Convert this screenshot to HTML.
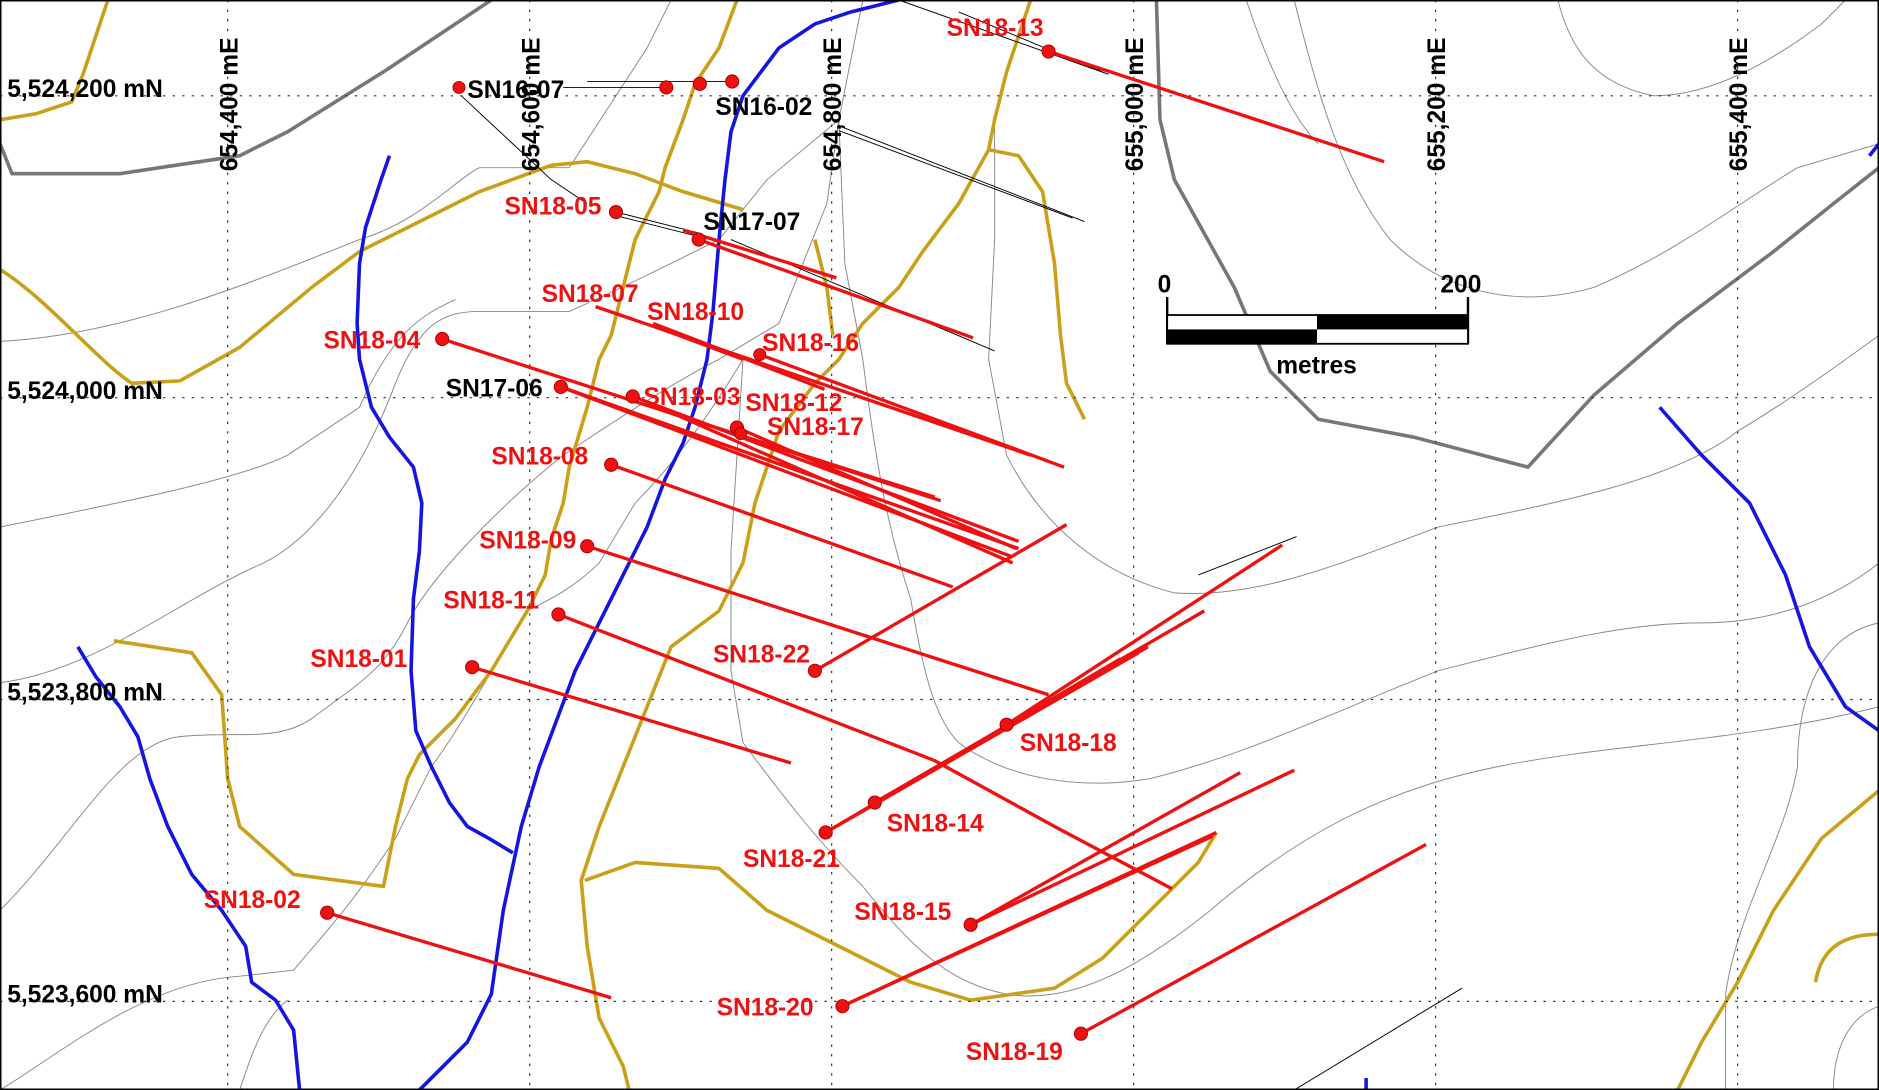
<!DOCTYPE html>
<html><head><meta charset="utf-8"><style>
html,body{margin:0;padding:0;background:#fff;}
svg{display:block;}
text{font-family:"Liberation Sans",Arial,sans-serif;font-weight:bold;}
.r{fill:#ee1111;font-size:20.5px;}
.k{fill:#000;font-size:20.5px;}
</style></head><body>
<svg width="1879" height="1090" viewBox="0 0 1568 910" preserveAspectRatio="none" xmlns="http://www.w3.org/2000/svg">
<rect x="0" y="0" width="1568" height="910" fill="#fff"/>
<g fill="none" stroke="#888" stroke-width="0.8">
<path d="M0,285 C100,280 200,240 300,200 C350,185 380,150 400,140 L475,140 L540,40 L560,0"/>
<path d="M0,570 C80,560 150,500 220,470 C260,450 300,400 330,320 C350,270 370,260 400,260 L475,260 C520,240 560,220 600,200 L640,150 L700,100"/>
<path d="M0,440 C100,420 200,400 240,380 L300,340 C330,270 360,260 380,250"/>
<path d="M0,760 C60,700 100,620 150,615 C200,610 230,620 260,600 C300,570 320,560 340,520 C360,480 420,420 470,380 C500,360 560,320 600,300 L650,270 L690,170 L700,100 L720,0"/>
<path d="M0,910 C50,880 120,820 200,815 L245,810 C270,780 290,760 330,700 L360,640 C390,600 420,540 440,510 C460,500 480,490 500,470 L530,420 C560,390 590,350 620,300"/>
<path d="M200,910 C210,880 220,850 240,835"/>
<path d="M700,100 L705,220 L720,300 C730,380 740,440 760,500 C770,560 780,600 800,620 C840,650 900,660 960,650 C1040,630 1100,600 1200,560 C1280,540 1350,520 1420,520 C1480,520 1530,500 1568,470"/>
<path d="M620,300 L615,380 L610,460 L610,560 L620,620 C650,660 680,700 720,740 C760,790 790,820 840,830 C900,840 960,800 1010,760 C1080,700 1150,660 1250,640 C1350,620 1450,620 1568,590"/>
<path d="M830,100 L830,200 L825,300 L840,380 C870,440 920,480 980,495 C1050,500 1120,470 1200,440 C1300,420 1400,400 1450,360 C1500,330 1540,300 1568,280"/>
<path d="M1080,0 C1100,80 1120,150 1160,200 C1200,240 1260,260 1330,240 C1400,210 1450,170 1500,140 L1568,120"/>
<path d="M1300,0 C1310,40 1330,70 1380,80 C1430,80 1480,50 1520,20 L1540,0"/>
<path d="M1568,520 C1520,530 1500,580 1500,640 C1490,700 1450,760 1440,830 L1440,910"/>
<path d="M1568,840 C1540,850 1530,880 1530,910"/>
<path d="M1040,0 C1060,60 1080,100 1100,120"/>
</g>
<g fill="none" stroke="#777" stroke-width="3">
<path d="M0,120 L10,145 L100,145 L200,130 L240,110 L320,60 L410,0"/>
<path d="M965,0 L968,100 L980,150 L1030,240 L1060,310 L1100,350 L1180,365 L1275,390 L1330,330 L1400,270 L1480,210 L1530,170 L1568,140"/>
</g>
<g fill="none" stroke="#c9a01a" stroke-width="3">
<path d="M90,0 L70,60 L60,85 L30,95 L0,100"/>
<path d="M0,225 C40,250 80,300 110,320 L150,318 L200,290 L260,240 L300,210 L340,190 L400,160 L460,138 L490,135 L530,145 L570,160 L620,175"/>
<path d="M615,0 L600,40 L580,70 L570,100 L555,140 L550,160 L530,200 L520,240 L510,280 L500,300 L490,340 L475,390 L470,420 L460,450 L455,480 L440,510 L410,560 L380,600 L350,630 L340,650 L330,690 L320,740 L245,730 L200,690 L190,650 L185,580 L160,545 L95,535"/>
<path d="M860,0 L840,60 L830,100 L825,125 L800,170 L770,210 L750,240 L720,270 L700,300 L680,320 L650,360 L630,420 L620,470 L600,510 L560,540 L540,590 L520,640 L500,690 L485,735 L490,790 L500,850 L520,890 L525,910"/>
<path d="M825,125 L850,130 L870,160 L880,220 L885,280 L890,320 L905,350"/>
<path d="M680,200 L690,240 L695,280"/>
<path d="M488,735 L530,720 L600,725 L640,760 L700,790 L760,820 L810,835 L880,825 L920,800 L960,760 L1000,720 L1015,695"/>
<path d="M1568,660 L1520,700 L1480,760 L1450,820 L1420,870 L1400,910"/>
<path d="M1568,780 C1540,780 1520,790 1515,820"/>
</g>
<g fill="none" stroke="#1515dd" stroke-width="3">
<path d="M750,0 L710,10 L680,20 L650,40 L620,80 L610,110 L605,150 L600,200 L595,260 L590,300 L580,340 L570,370 L555,400 L540,440 L520,480 L500,520 L480,560 L465,600 L450,640 L435,690 L420,760 L410,830 L390,870 L370,890 L350,910"/>
<path d="M325,130 L318,150 L305,190 L300,220 L298,270 L300,300 L310,340 L325,365 L345,390 L352,420 L350,460 L345,500 L343,560 L347,610 L360,640 L375,670 L390,690 L408,700 L428,712"/>
<path d="M65,540 L80,565 L100,590 L115,615 L125,650 L140,690 L160,730 L185,760 L205,790 L210,820 L230,835 L245,860 L250,910"/>
<path d="M1385,340 L1420,380 L1460,420 L1490,480 L1510,540 L1540,590 L1568,610"/>
<path d="M1568,120 L1560,130"/>
<path d="M1140,900 L1140,910"/>
</g>
<g fill="none" stroke="#000" stroke-width="0.8">
<path d="M490,68 L611,68"/><path d="M470,73 L556,73"/>
<path d="M385,80 L460,150 L490,170"/>
<path d="M514,177 L585,195"/><path d="M514,180 L585,198"/>
<path d="M700,105 L905,185"/><path d="M700,109 L895,182"/>
<path d="M750,0 L925,62"/><path d="M800,10 L920,60"/>
<path d="M610,200 L830,293"/>
<path d="M1080,910 L1220,825"/>
<path d="M1000,480 L1082,448"/>
</g>
<g stroke="#333" stroke-width="1" stroke-dasharray="2,6" fill="none">
<line x1="190" y1="0" x2="190" y2="910"/><line x1="442" y1="0" x2="442" y2="910"/><line x1="694" y1="0" x2="694" y2="910"/><line x1="946" y1="0" x2="946" y2="910"/><line x1="1198" y1="0" x2="1198" y2="910"/><line x1="1450" y1="0" x2="1450" y2="910"/>
<line x1="0" y1="80" x2="1568" y2="80"/><line x1="0" y1="332" x2="1568" y2="332"/><line x1="0" y1="584" x2="1568" y2="584"/><line x1="0" y1="836" x2="1568" y2="836"/>
</g>
<g stroke="#ee1111" stroke-width="2.8" fill="none">
<path d="M875,43 L1155,135"/>
<path d="M583,200 L812,282"/><path d="M570,192 L698,232"/>
<path d="M497,256 L860,380"/>
<path d="M545,270 L688,325"/><path d="M545,272 L620,300"/>
<path d="M634,296 L888,390"/>
<path d="M369,283 L785,418"/>
<path d="M468,323 L845,465"/><path d="M468,323 L850,458"/>
<path d="M528,331 L850,452"/><path d="M550,340 L845,470"/>
<path d="M615,357 L848,458"/><path d="M560,345 L780,415"/>
<path d="M510,388 L795,490"/>
<path d="M490,456 L875,580"/>
<path d="M466,513 L780,635 L880,690 L978,742"/>
<path d="M394,557 L660,637"/>
<path d="M680,560 L890,438"/>
<path d="M840,605 L1070,455"/>
<path d="M730,670 L1005,510"/><path d="M730,670 L958,540"/>
<path d="M689,695 L935,550"/><path d="M689,695 L950,545"/>
<path d="M810,772 L1035,645"/><path d="M810,772 L1080,643"/>
<path d="M703,840 L1015,695"/><path d="M703,840 L1012,698"/>
<path d="M902,863 L1190,705"/>
<path d="M273,762 L510,833"/>
</g>
<g fill="#ee1111" stroke="#aa0000" stroke-width="0.8">
<circle cx="875" cy="43" r="5.5"/><circle cx="383" cy="73" r="5"/><circle cx="556" cy="73" r="5.5"/><circle cx="584" cy="70" r="5.5"/><circle cx="611" cy="68" r="5.5"/>
<circle cx="514" cy="177" r="5.5"/><circle cx="583" cy="200" r="5.5"/><circle cx="634" cy="296" r="5"/><circle cx="369" cy="283" r="5.5"/>
<circle cx="468" cy="323" r="5.5"/><circle cx="528" cy="331" r="5.5"/><circle cx="615" cy="357" r="5.5"/><circle cx="618" cy="362" r="5"/>
<circle cx="510" cy="388" r="5.5"/><circle cx="490" cy="456" r="5.5"/><circle cx="466" cy="513" r="5.5"/><circle cx="394" cy="557" r="5.5"/>
<circle cx="680" cy="560" r="5.5"/><circle cx="840" cy="605" r="5.5"/><circle cx="730" cy="670" r="5.5"/><circle cx="689" cy="695" r="5.5"/>
<circle cx="810" cy="772" r="5.5"/><circle cx="703" cy="840" r="5.5"/><circle cx="902" cy="863" r="5.5"/><circle cx="273" cy="762" r="5.5"/>
</g>
<g>
<text transform="translate(198,143) rotate(-90)" class="k">654,400 mE</text>
<text transform="translate(450,143) rotate(-90)" class="k">654,600 mE</text>
<text transform="translate(702,143) rotate(-90)" class="k">654,800 mE</text>
<text transform="translate(954,143) rotate(-90)" class="k">655,000 mE</text>
<text transform="translate(1206,143) rotate(-90)" class="k">655,200 mE</text>
<text transform="translate(1458,143) rotate(-90)" class="k">655,400 mE</text>
</g>
<text class="k" x="6" y="81">5,524,200 mN</text>
<text class="k" x="6" y="333">5,524,000 mN</text>
<text class="k" x="6" y="585">5,523,800 mN</text>
<text class="k" x="6" y="837">5,523,600 mN</text>
<text class="k" x="390" y="82">SN16-07</text>
<text class="k" x="597" y="96">SN16-02</text>
<text class="k" x="587" y="192">SN17-07</text>
<text class="k" x="372" y="331">SN17-06</text>
<text class="r" x="790" y="30">SN18-13</text>
<text class="r" x="421" y="179">SN18-05</text>
<text class="r" x="452" y="252">SN18-07</text>
<text class="r" x="540" y="267">SN18-10</text>
<text class="r" x="636" y="293">SN18-16</text>
<text class="r" x="270" y="291">SN18-04</text>
<text class="r" x="537" y="338">SN18-03</text>
<text class="r" x="622" y="343">SN18-12</text>
<text class="r" x="640" y="363">SN18-17</text>
<text class="r" x="410" y="388">SN18-08</text>
<text class="r" x="400" y="458">SN18-09</text>
<text class="r" x="370" y="508">SN18-11</text>
<text class="r" x="259" y="557">SN18-01</text>
<text class="r" x="595" y="553">SN18-22</text>
<text class="r" x="851" y="627">SN18-18</text>
<text class="r" x="740" y="694">SN18-14</text>
<text class="r" x="620" y="724">SN18-21</text>
<text class="r" x="713" y="768">SN18-15</text>
<text class="r" x="598" y="848">SN18-20</text>
<text class="r" x="806" y="885">SN18-19</text>
<text class="r" x="170" y="758">SN18-02</text>
<text class="k" x="966" y="244" font-size="22">0</text>
<text class="k" x="1202" y="244" font-size="22">200</text>
<line x1="974" y1="248" x2="974" y2="287" stroke="#000" stroke-width="2"/>
<line x1="1225" y1="248" x2="1225" y2="287" stroke="#000" stroke-width="2"/>
<rect x="974" y="263" width="251" height="24" fill="#fff" stroke="#000" stroke-width="1.5"/>
<rect x="1099" y="263" width="126" height="12" fill="#000"/>
<rect x="974" y="275" width="125" height="12" fill="#000"/>
<text class="k" x="1065" y="312" font-size="22">metres</text>
<rect x="0.5" y="0.5" width="1567" height="909" fill="none" stroke="#000" stroke-width="1.5"/>
</svg>
</body></html>
